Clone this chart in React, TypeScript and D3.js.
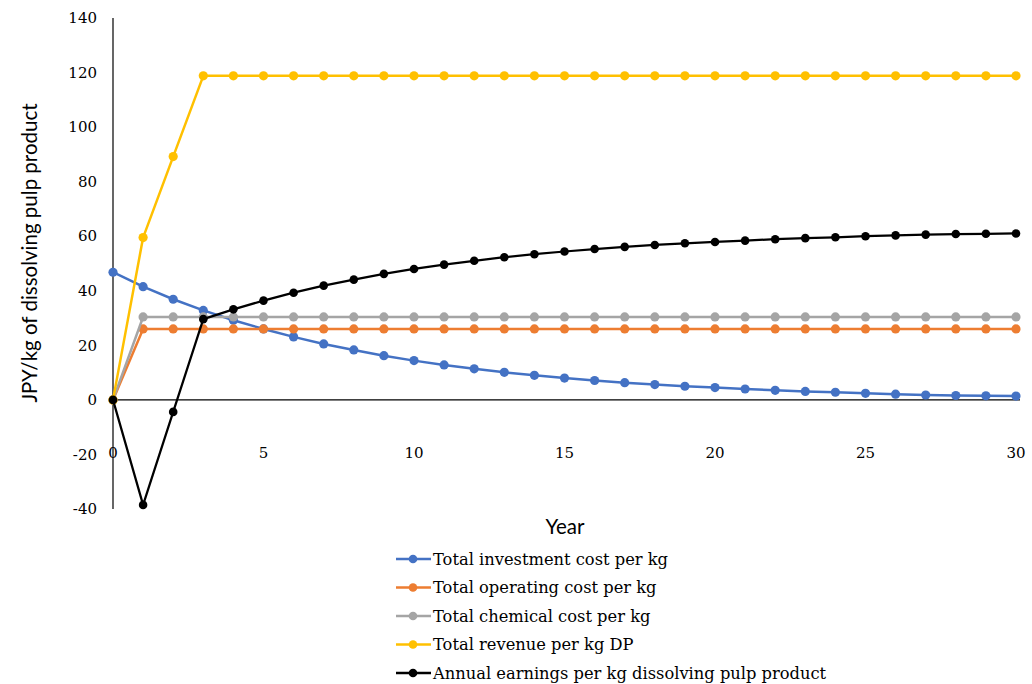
import React from "react";
import * as d3 from "d3";

const years: number[] = d3.range(0, 31);

const investmentCost: number[] = [
  46.8, 41.5, 36.9, 32.8, 29.2, 26.0, 23.1, 20.5, 18.3, 16.2, 14.4, 12.8, 11.4,
  10.1, 9.0, 8.0, 7.1, 6.3, 5.6, 5.0, 4.5, 4.0, 3.5, 3.1, 2.8, 2.4, 2.1, 1.8,
  1.6, 1.5, 1.4,
];

const operatingCost: number[] = [
  0, 26.0, 26.0, 26.0, 26.0, 26.0, 26.0, 26.0, 26.0, 26.0, 26.0, 26.0, 26.0,
  26.0, 26.0, 26.0, 26.0, 26.0, 26.0, 26.0, 26.0, 26.0, 26.0, 26.0, 26.0, 26.0,
  26.0, 26.0, 26.0, 26.0, 26.0,
];

const chemicalCost: number[] = [
  0, 30.4, 30.4, 30.4, 30.4, 30.4, 30.4, 30.4, 30.4, 30.4, 30.4, 30.4, 30.4,
  30.4, 30.4, 30.4, 30.4, 30.4, 30.4, 30.4, 30.4, 30.4, 30.4, 30.4, 30.4, 30.4,
  30.4, 30.4, 30.4, 30.4, 30.4,
];

const revenue: number[] = [
  0, 59.5, 89.2, 118.8, 118.8, 118.8, 118.8, 118.8, 118.8, 118.8, 118.8, 118.8,
  118.8, 118.8, 118.8, 118.8, 118.8, 118.8, 118.8, 118.8, 118.8, 118.8, 118.8,
  118.8, 118.8, 118.8, 118.8, 118.8, 118.8, 118.8, 118.8,
];

const earnings: number[] = [
  0, -38.5, -4.4, 29.6, 33.2, 36.4, 39.3, 41.9, 44.1, 46.2, 48.0, 49.6, 51.0,
  52.3, 53.4, 54.4, 55.3, 56.1, 56.8, 57.4, 57.9, 58.4, 58.9, 59.3, 59.6, 60.0,
  60.3, 60.6, 60.8, 60.9, 61.0,
];

const seriesNames: string[] = [
  "Total investment cost per kg",
  "Total operating cost per kg",
  "Total chemical cost per kg",
  "Total revenue per kg DP",
  "Annual earnings per kg dissolving pulp product",
];
const seriesColors: string[] = ["#4472C4", "#ED7D31", "#A5A5A5", "#FFC000", "#000000"];
const seriesValues: number[][] = [investmentCost, operatingCost, chemicalCost, revenue, earnings];

const yTicks: number[] = [-40, -20, 0, 20, 40, 60, 80, 100, 120, 140];
const xTicks: number[] = [0, 5, 10, 15, 20, 25, 30];

const W = 1032;
const H = 684;
const serif = "'DejaVu Serif', serif";
const sans = "Lato, 'Open Sans', sans-serif";

export default function App() {
  const x = d3.scaleLinear().domain([0, 30]).range([113, 1016]);
  const y = d3.scaleLinear().domain([-40, 140]).range([509, 18]);

  const line = d3
    .line<number>()
    .x((_, i) => x(years[i]))
    .y((d) => y(d));

  const legendY0 = 559;
  const legendStep = 28.5;

  return (
    <svg
      width={W}
      height={H}
      style={{ position: "absolute", left: 0, top: 0, background: "#fff" }}
    >
      <rect x={0} y={0} width={W} height={H} fill="#fff" />

      {/* axes */}
      <line x1={x(0)} x2={x(0)} y1={y(140)} y2={y(-40)} stroke="#000" strokeWidth={1.2} />
      <line x1={x(0)} x2={x(30) + 4} y1={y(0)} y2={y(0)} stroke="#000" strokeWidth={1.2} />

      {/* y tick labels */}
      {yTicks.map((t) => (
        <text
          key={"y" + t}
          x={97}
          y={y(t)}
          dy="0.35em"
          textAnchor="end"
          fontFamily={serif}
          fontSize={15}
          fill="#000"
        >
          {t}
        </text>
      ))}

      {/* x tick labels */}
      {xTicks.map((t) => (
        <text
          key={"x" + t}
          x={x(t)}
          y={458}
          textAnchor="middle"
          fontFamily={serif}
          fontSize={15}
          fill="#000"
        >
          {t}
        </text>
      ))}

      {/* series */}
      {seriesValues.map((vals, si) => {
        const isBlack = si === 4;
        return (
          <g key={"s" + si}>
            <path
              d={line(vals) || ""}
              fill="none"
              stroke={seriesColors[si]}
              strokeWidth={isBlack ? 2.25 : 2.5}
              strokeLinejoin="round"
            />
            {vals.map((v, i) => (
              <circle
                key={i}
                cx={x(years[i])}
                cy={y(v)}
                r={isBlack ? 4.3 : 4.6}
                fill={seriesColors[si]}
              />
            ))}
          </g>
        );
      })}

      {/* axis titles */}
      <text
        transform={`translate(37, ${253}) rotate(-90)`}
        textAnchor="middle"
        fontFamily={sans}
        fontSize={20.5}
        fill="#000"
      >
        JPY/kg of dissolving pulp product
      </text>
      <text x={565} y={534} textAnchor="middle" fontFamily={sans} fontSize={20.5} fill="#000">
        Year
      </text>

      {/* legend */}
      {seriesNames.map((name, i) => {
        const ly = legendY0 + i * legendStep;
        return (
          <g key={"l" + i}>
            <line x1={396} x2={431} y1={ly} y2={ly} stroke={seriesColors[i]} strokeWidth={2.5} />
            <circle cx={413} cy={ly} r={4.3} fill={seriesColors[i]} />
            <text
              x={433}
              y={ly}
              dy="0.35em"
              fontFamily={serif}
              fontSize={16.3}
              fill="#000"
            >
              {name}
            </text>
          </g>
        );
      })}
    </svg>
  );
}
